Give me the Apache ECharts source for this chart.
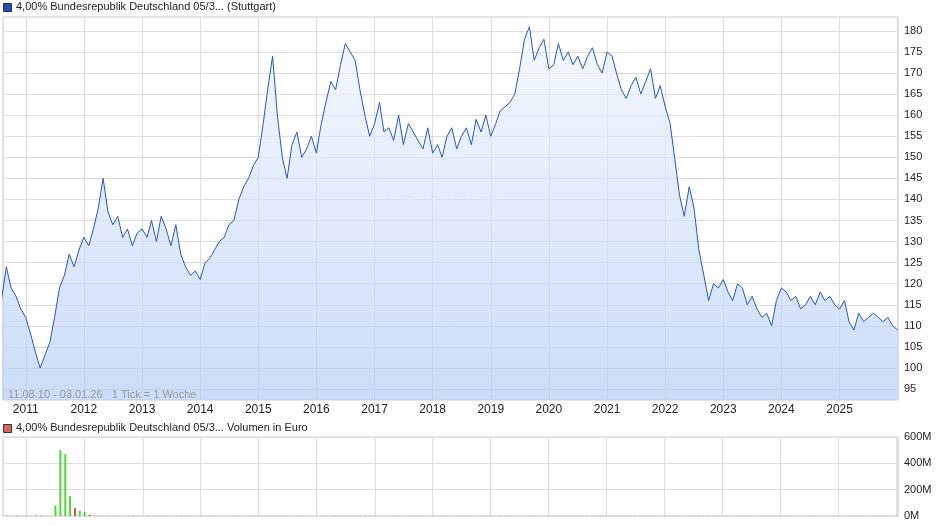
<!DOCTYPE html>
<html>
<head>
<meta charset="utf-8">
<script src="https://cdn.jsdelivr.net/npm/echarts@6/dist/echarts.min.js"></script>
<style>html,body{margin:0;padding:0;background:#fff}</style>
</head>
<body>
<div id="main" style="width:940px;height:526px"></div>
<script>
// Monatswerte ab Aug 2010
const startYear = 2010, startMonth = 8;
const prices = [
  116, 124, 119, 117, 114,
  112, 108, 104, 100, 103, 106, 112, 119, 122, 127, 124, 128,
  131, 129, 133, 138, 145, 137, 134, 136, 131, 133, 129, 132,
  133, 131, 135, 130, 136, 133, 129, 134, 127, 124, 122, 123,
  121, 125, 126, 128, 130, 131, 134, 135, 140, 143, 145, 148,
  150, 158, 166, 174, 160, 150, 145, 153, 156, 150, 152, 155,
  151, 158, 163, 168, 166, 172, 177, 175, 173, 166, 160, 155,
  158, 163, 156, 157, 154, 160, 153, 158, 156, 154, 152, 157,
  151, 153, 150, 155, 157, 152, 155, 157, 153, 159, 156, 160,
  155, 158, 161, 162, 163, 165, 171, 178, 181, 173, 176, 178,
  171, 172, 177, 173, 175, 172, 174, 171, 174, 176, 172, 170,
  175, 174, 170, 166, 164, 167, 169, 165, 168, 171, 164, 167,
  162, 158, 150, 141, 136, 143, 138, 128, 122, 116, 120, 119,
  121, 118, 116, 120, 119, 115, 117, 114, 112, 113, 110, 116,
  119, 118, 116, 117, 114, 115, 117, 115, 118, 116, 117, 115,
  114, 116, 111, 109, 113, 111, 112, 113, 112, 111, 112, 110,
  109
];
// Volumen in Mio. Euro
const volumes = [
  3, 4, 2, 3, 2,
  3, 2, 4, 3, 2, 3, 80, 500, 470, 150, 60, 40,
  30, 10, 4, 3, 2, 3, 2, 3, 2, 2, 3, 2,
  2, 3, 2, 2, 3, 2, 2, 2, 3, 2, 2, 2,
  2, 2, 2, 3, 2, 2, 2, 2, 3, 2, 2, 2,
  2, 2, 3, 2, 2, 2, 2, 3, 2, 2, 2, 2,
  2, 2, 2, 2, 3, 2, 2, 2, 2, 2, 3, 2,
  2, 2, 2, 2, 2, 3, 2, 2, 2, 2, 2, 2,
  2, 2, 2, 2, 2, 2, 2, 2, 2, 2, 2, 2,
  2, 2, 2, 3, 2, 2, 2, 2, 2, 2, 2, 2,
  2, 2, 2, 2, 2, 2, 2, 2, 2, 2, 2, 2,
  2, 2, 2, 2, 2, 2, 2, 2, 2, 2, 2, 2,
  2, 2, 2, 2, 2, 2, 2, 3, 2, 2, 2, 2,
  2, 2, 2, 2, 2, 3, 2, 2, 2, 2, 2, 2,
  2, 2, 2, 2, 2, 2, 2, 2, 2, 2, 2, 2,
  2, 2, 2, 2, 2, 2, 2, 2, 2, 2, 2, 2,
  2
];
const priceTicks = [95, 100, 105, 110, 115, 120, 125, 130, 135, 140, 145, 150, 155, 160, 165, 170, 175, 180];

const dates = prices.map((_, i) => {
  const m = startMonth - 1 + i;
  return new Date(startYear + Math.floor(m / 12), m % 12, 1).getTime();
});
const priceData = prices.map((v, i) => [dates[i], v]);
const volData = volumes.map((v, i) => ({
  value: [dates[i], v],
  itemStyle: { color: i > 0 && prices[i] < prices[i - 1] ? '#d9534f' : '#4fd63a' }
}));

const xMin = new Date(2010, 7, 11).getTime();
const xMax = new Date(2026, 0, 3).getTime();
const year = 365.25 * 24 * 3600 * 1000;
const txt = { fontFamily: 'Liberation Sans', fontSize: 11, color: '#222' };

const chart = echarts.init(document.getElementById('main'));
chart.setOption({
  animation: false,
  grid: [
    { left: 3, right: 42, top: 17, height: 383, show: true, borderColor: '#ccc', backgroundColor: '#fff' },
    { left: 3, right: 42, top: 437, height: 79, show: true, borderColor: '#ccc' }
  ],
  xAxis: [
    { type: 'time', gridIndex: 0, min: xMin, max: xMax, minInterval: year * 0.9, maxInterval: year * 1.1,
      axisLine: { show: false }, axisTick: { show: false },
      axisLabel: { ...txt, fontSize: 12, margin: 4,
        formatter: v => { const y = new Date(v).getFullYear(); return y >= 2026 ? '' : String(y); } },
      splitLine: { show: true, lineStyle: { color: '#ddd' } } },
    { type: 'time', gridIndex: 1, min: xMin, max: xMax, minInterval: year * 0.9, maxInterval: year * 1.1,
      axisLine: { show: false }, axisTick: { show: false }, axisLabel: { show: false },
      splitLine: { show: true, lineStyle: { color: '#ddd' } } }
  ],
  yAxis: [
    { type: 'value', gridIndex: 0, position: 'right', min: 92.4, max: 183.3,
      axisLine: { show: false },
      axisTick: { show: false, customValues: priceTicks },
      axisLabel: { ...txt, customValues: priceTicks, margin: 6 },
      splitLine: { lineStyle: { color: '#ddd' } } },
    { type: 'value', gridIndex: 1, position: 'right', min: 0, max: 600, interval: 200,
      axisLine: { show: false }, axisTick: { show: false },
      axisLabel: { ...txt, margin: 6, formatter: v => v + 'M' },
      splitLine: { lineStyle: { color: '#ddd' } } }
  ],
  series: [
    { type: 'line', xAxisIndex: 0, yAxisIndex: 0, data: priceData, showSymbol: false,
      lineStyle: { color: '#2456c4', width: 1 },
      areaStyle: { color: new echarts.graphic.LinearGradient(0, 0, 0, 1, [
        { offset: 0, color: 'rgba(238,244,254,0.9)' }, { offset: 1, color: '#b6cdf5' }]) } },
    { type: 'bar', xAxisIndex: 1, yAxisIndex: 1, data: volData, barWidth: 2 }
  ],
  graphic: [
    { type: 'rect', left: 3, top: 3, shape: { width: 8, height: 8 }, style: { fill: '#1f4fbf', stroke: '#333' } },
    { type: 'text', left: 16, top: 1, style: { text: '4,00% Bundesrepublik Deutschland 05/3... (Stuttgart)', font: '11px Liberation Sans', fill: '#222' } },
    { type: 'rect', left: 3, top: 424, shape: { width: 8, height: 8 }, style: { fill: '#d9655f', stroke: '#333' }, z: 10 },
    { type: 'text', left: 16, top: 422, style: { text: '4,00% Bundesrepublik Deutschland 05/3... Volumen in Euro', font: '11px Liberation Sans', fill: '#222' } },
    { type: 'text', left: 8, top: 389, z: 10, style: { text: '11.08.10 - 03.01.26   1 Tick = 1 Woche', font: '11px Liberation Sans', fill: '#999' } },
    { type: 'text', left: 378, top: 188, z: 1, style: { text: 'ARIVA.DE', font: 'italic bold 26px Liberation Sans', fill: 'rgba(255,255,255,0.5)' } }
  ]
});
</script>
</body>
</html>
